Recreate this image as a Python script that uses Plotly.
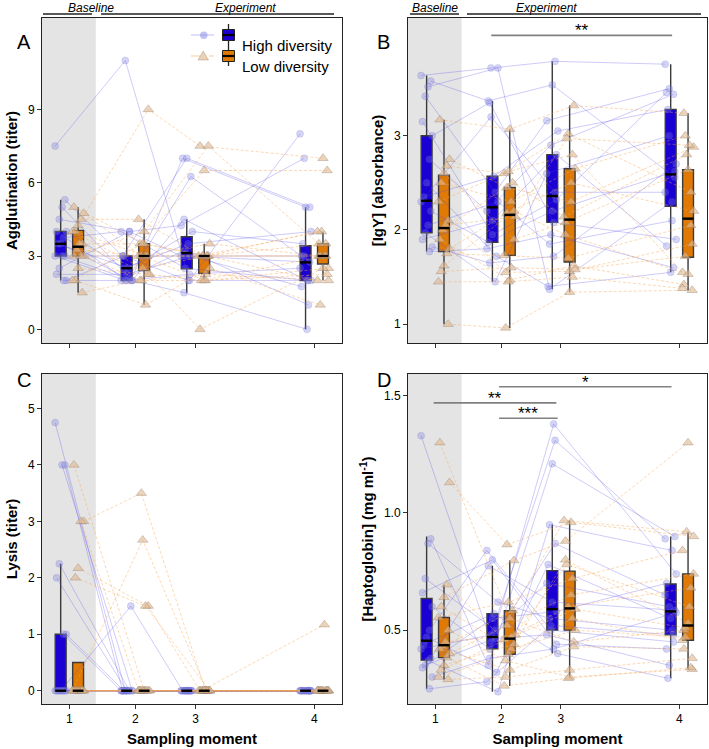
import plotly.graph_objects as go
from plotly.subplots import make_subplots

W, H = 709, 749

# sampling moments and where they sit on the time axis
moments = ["1", "2", "3", "4"]
moment_pos = [1.0, 2.0, 2.91, 4.71]

# individual values, one list per sampling moment (same order = same individual)
agglut_high = [
    [7.5, 5.3, 5.0, 4.5, 4.0, 4.0, 3.75, 3.5, 3.5, 3.0, 3.0, 3.0, 2.5, 2.25, 2.0, 2.0],
    [11.0, 3.0, 2.0, 4.0, 2.0, 2.5, 4.0, 2.0, 2.5, 2.0, 3.0, 2.0, 4.0, 2.25, 3.0, 2.0],
    [2.0, 7.0, 4.5, 3.0, 6.25, 3.5, 2.5, 7.0, 4.0, 2.25, 3.0, 1.5, 4.25, 3.0, 2.0, 3.25],
    [8.0, 5.0, 2.0, 3.0, 3.0, 4.0, 2.0, 5.0, 3.5, 2.5, 2.75, 0.0, 7.0, 1.75, 2.0, 1.0],
]
agglut_low = [
    [5.0, 4.75, 4.5, 4.25, 4.0, 4.0, 3.5, 3.5, 3.25, 3.0, 3.0, 3.0, 2.5, 2.0, 2.0, 1.5],
    [3.5, 3.0, 4.5, 9.0, 3.0, 2.5, 3.5, 2.25, 3.0, 4.0, 2.0, 3.0, 2.25, 1.0, 3.5, 2.0],
    [3.0, 2.0, 3.0, 7.5, 3.5, 3.0, 6.5, 2.0, 3.0, 7.5, 2.25, 3.0, 0.0, 2.5, 3.0, 2.0],
    [3.0, 2.5, 3.5, 7.0, 3.0, 2.0, 6.5, 3.0, 4.0, 3.5, 2.0, 3.0, 2.5, 1.0, 4.0, 2.25],
]
igy_high = [
    [3.64, 3.58, 3.52, 3.42, 3.15, 3.0, 2.75, 2.5, 2.35, 2.3, 2.2, 2.05, 1.97, 1.9, 1.82, 1.77],
    [3.72, 3.37, 3.72, 2.4, 1.95, 3.35, 2.2, 1.72, 2.57, 3.2, 1.87, 2.3, 1.45, 2.1, 1.65, 1.8],
    [3.79, 3.54, 1.37, 3.16, 2.32, 2.08, 2.9, 1.4, 3.05, 2.4, 2.2, 1.85, 2.6, 2.8, 1.72, 1.95],
    [3.76, 2.56, 2.3, 3.5, 3.46, 1.9, 3.44, 1.55, 3.28, 2.4, 2.62, 2.1, 3.0, 1.83, 2.7, 1.6],
]
igy_low = [
    [3.17, 2.75, 2.68, 2.6, 2.5, 2.3, 2.1, 2.05, 2.0, 1.9, 1.8, 1.75, 1.62, 1.56, 1.45, 1.0],
    [3.07, 2.45, 2.6, 1.9, 2.3, 2.62, 1.55, 2.14, 2.5, 1.47, 2.18, 1.73, 2.2, 1.6, 1.45, 0.96],
    [3.32, 2.3, 3.02, 2.08, 2.65, 2.8, 1.56, 2.97, 2.14, 1.62, 2.5, 1.7, 1.95, 1.58, 1.5, 1.34],
    [3.24, 2.88, 2.4, 2.64, 3.0, 1.55, 1.85, 2.9, 2.8, 1.42, 2.2, 2.05, 1.53, 1.72, 1.38, 1.36],
]
lysis_high = [
    [4.75, 4.0, 4.0, 2.25, 2.0, 1.0, 1.0, 0, 0, 0, 0, 0, 0, 0, 0, 0],
    [0, 0, 0, 0, 0, 0, 0, 1.5, 0, 0, 0, 0, 0, 0, 0, 0],
    [0, 0, 0, 0, 0, 0, 0, 0, 0, 0, 0, 0, 0, 0, 0, 0],
    [0, 0, 0, 0, 0, 0, 0, 0, 0, 0, 0, 0, 0, 0, 0, 0],
]
lysis_low = [
    [4.0, 3.0, 3.0, 2.17, 2.0, 0, 0, 0, 0, 0, 0, 0, 0, 0, 0, 0],
    [0, 3.5, 0, 1.5, 1.5, 2.67, 0, 0, 0, 0, 0, 0, 0, 0, 0, 0],
    [0, 0, 0, 0, 0, 0, 0, 0, 0, 0, 0, 0, 0, 0, 0, 0],
    [0, 0, 0, 0, 0, 0, 0, 1.17, 0, 0, 0, 0, 0, 0, 0, 0],
]
hapto_high = [
    [1.33, 0.89, 0.87, 0.72, 0.66, 0.6, 0.5, 0.47, 0.44, 0.42, 0.38, 0.37, 0.35, 0.34, 0.3, 0.25],
    [0.45, 0.35, 0.62, 0.5, 0.8, 0.42, 0.84, 0.32, 0.57, 0.48, 0.775, 0.237, 0.465, 0.55, 0.38, 0.28],
    [0.87, 1.21, 0.55, 0.7, 0.44, 1.38, 0.5, 0.78, 0.4, 1.31, 0.62, 0.95, 0.48, 0.58, 0.42, 0.52],
    [0.65, 0.9, 0.5, 0.6, 0.42, 0.74, 0.45, 0.55, 0.295, 0.89, 0.585, 0.84, 0.35, 0.7, 0.575, 0.48],
]
hapto_low = [
    [1.3, 1.13, 0.694, 0.64, 0.6, 0.554, 0.5, 0.45, 0.43, 0.42, 0.4, 0.383, 0.35, 0.33, 0.3, 0.29],
    [0.55, 0.865, 0.46, 0.797, 0.42, 0.62, 0.37, 0.48, 0.583, 0.33, 0.52, 0.262, 0.44, 0.47, 0.397, 0.3],
    [0.45, 0.96, 0.6, 0.88, 0.5, 0.72, 0.3, 0.78, 0.968, 0.43, 0.65, 0.295, 0.8, 0.59, 0.55, 0.33],
    [0.5, 0.9, 0.68, 1.3, 0.47, 0.84, 0.333, 0.6, 0.92, 0.42, 0.74, 0.34, 0.53, 0.51, 0.457, 0.38],
]

# box statistics per moment: q1, median, q3, lower / upper whisker
agglut_box_high = dict(q1=[3.0, 2.0, 2.48, 2.0], med=[3.5, 2.5, 3.12, 2.74], q3=[4.0, 3.0, 3.79, 3.42],
                       lo=[2.0, 2.0, 1.5, 0.0], hi=[5.3, 4.0, 4.5, 5.0])
agglut_box_low = dict(q1=[3.0, 2.4, 2.29, 2.67], med=[3.38, 3.0, 3.0, 3.0], q3=[4.05, 3.5, 3.0, 3.5],
                      lo=[1.5, 1.0, 2.0, 2.0], hi=[5.0, 4.5, 3.5, 4.0])
igy_box_high = dict(q1=[1.97, 1.87, 2.08, 2.25], med=[2.31, 2.24, 2.36, 2.59], q3=[3.0, 2.57, 2.8, 3.28],
                    lo=[1.77, 1.45, 1.37, 1.55], hi=[3.64, 3.37, 3.79, 3.76])
igy_box_low = dict(q1=[1.77, 1.73, 1.66, 1.71], med=[2.02, 2.16, 2.11, 2.12], q3=[2.58, 2.45, 2.65, 2.64],
                   lo=[1.0, 0.96, 1.34, 1.36], hi=[3.17, 3.07, 3.32, 3.24])
lysis_box_high = dict(q1=[0, 0, 0, 0], med=[0, 0, 0, 0], q3=[1.0, 0, 0, 0], lo=[0, 0, 0, 0], hi=[2.25, 0, 0, 0])
lysis_box_low = dict(q1=[0, 0, 0, 0], med=[0, 0, 0, 0], q3=[0.5, 0, 0, 0], lo=[0, 0, 0, 0], hi=[0.5, 0, 0, 0])
hapto_box_high = dict(q1=[0.372, 0.421, 0.501, 0.48], med=[0.455, 0.471, 0.59, 0.58], q3=[0.635, 0.57, 0.754, 0.697],
                      lo=[0.25, 0.237, 0.40, 0.295], hi=[0.90, 0.775, 0.951, 0.90])
hapto_box_low = dict(q1=[0.383, 0.397, 0.50, 0.457], med=[0.436, 0.464, 0.593, 0.52], q3=[0.554, 0.583, 0.752, 0.74],
                     lo=[0.29, 0.262, 0.295, 0.333], hi=[0.694, 0.797, 0.968, 0.92])

# significance brackets: panel, from, to, height, label
sig_panel = [2, 4, 4, 4]
sig_x0 = [1.85, 1.97, 0.975, 1.97]
sig_x1 = [4.6, 4.59, 2.84, 2.86]
sig_y = [4.066, 1.5385, 1.470, 1.4045]
sig_label = ["**", "*", "**", "***"]

FONT = "Liberation Sans, Arial, sans-serif"
BLUE = "#1A00D2"
ORANGE = "#E07A05"

panels = [
    (agglut_high, agglut_low, agglut_box_high, agglut_box_low, "Agglutination (titer)", [-0.56, 12.74], [0, 3, 6, 9], ["0", "3", "6", "9"], "A"),
    (igy_high, igy_low, igy_box_high, igy_box_low, "[IgY] (absorbance)", [0.80, 4.25], [1, 2, 3], ["1", "2", "3"], "B"),
    (lysis_high, lysis_low, lysis_box_high, lysis_box_low, "Lysis (titer)", [-0.235, 5.61], [0, 1, 2, 3, 4, 5], ["0", "1", "2", "3", "4", "5"], "C"),
    (hapto_high, hapto_low, hapto_box_high, hapto_box_low, "[Haptoglobin] (mg ml<sup>-1</sup>)", [0.185, 1.593], [0.5, 1.0, 1.5], ["0.5", "1.0", "1.5"], "D"),
]

fig = make_subplots(rows=2, cols=2)

# plot area in page pixels
ML, MR, MT, MB = 42, 2, 18, 45


def px_x(p):
    return (p - ML) / (W - ML - MR)


def px_y(p):
    return 1 - (p - MT) / (H - MT - MB)


x_dom = [[px_x(42), px_x(342)], [px_x(408), px_x(707)]]
y_dom = [[px_y(343), px_y(18)], [px_y(704), px_y(374)]]

offsets = [-0.132, 0.132]
box_w = 0.165


def jitter(k, m):
    return ((k * 7 + m * 3) % 9 - 4) * 0.021


styles = [
    dict(line=dict(color="rgba(85,75,230,0.36)", width=0.8),
         marker=dict(symbol="circle", size=7, color="rgba(125,125,225,0.32)",
                     line=dict(color="rgba(90,90,200,0.28)", width=0.6))),
    dict(line=dict(color="rgba(245,165,80,0.55)", width=0.8, dash="3px,2px"),
         marker=dict(symbol="triangle-up", size=9, color="rgba(225,185,145,0.6)",
                     line=dict(color="rgba(140,120,100,0.5)", width=0.7))),
]

for pi, (high, low, bh, bl, ytitle, yrange, yticks, ytext, letter) in enumerate(panels):
    r, c = pi // 2 + 1, pi % 2 + 1
    # individual trajectories
    for gi, data in enumerate([high, low]):
        xs, ys = [], []
        for k in range(len(data[0])):
            for m in range(4):
                xs.append(moment_pos[m] + offsets[gi] + jitter(k + gi * 4, m))
                ys.append(data[m][k])
            xs.append(None)
            ys.append(None)
        fig.add_trace(go.Scatter(x=xs, y=ys, mode="lines+markers", showlegend=False,
                                 hoverinfo="skip", **styles[gi]), row=r, col=c)
    # boxes
    for gi, (b, col) in enumerate([(bh, BLUE), (bl, ORANGE)]):
        bx = [p + offsets[gi] for p in moment_pos]
        fig.add_trace(go.Box(x=bx, q1=b["q1"], median=b["med"], q3=b["q3"],
                             lowerfence=b["lo"], upperfence=b["hi"], width=box_w,
                             fillcolor=col, line=dict(color="#3a3a3a", width=1.4),
                             whiskerwidth=0, boxpoints=False, showlegend=False,
                             hoverinfo="skip"), row=r, col=c)
        mx, my = [], []
        for p, v in zip(bx, b["med"]):
            mx += [p - box_w / 2, p + box_w / 2, None]
            my += [v, v, None]
        fig.add_trace(go.Scatter(x=mx, y=my, mode="lines", line=dict(color="black", width=2.4),
                                 showlegend=False, hoverinfo="skip"), row=r, col=c)

    xa = "xaxis" if pi == 0 else "xaxis%d" % (pi + 1)
    ya = "yaxis" if pi == 0 else "yaxis%d" % (pi + 1)
    fig.layout[xa].update(domain=x_dom[c - 1], range=[0.585, 5.13], tickvals=moment_pos, ticktext=moments,
                          showticklabels=(r == 2), ticks="outside", ticklen=4, tickcolor="#333",
                          showline=True, mirror=True, linecolor="#222", linewidth=1,
                          showgrid=False, zeroline=False, automargin=False,
                          tickfont=dict(family=FONT, size=12, color="black"))
    if r == 2:
        fig.layout[xa].title = dict(text="Sampling moment", standoff=8,
                                    font=dict(family=FONT, size=15, color="black", weight="bold"))
    fig.layout[ya].update(domain=y_dom[r - 1], range=yrange, tickvals=yticks, ticktext=ytext,
                          ticks="outside", ticklen=4, tickcolor="#333",
                          showline=True, mirror=True, linecolor="#222", linewidth=1,
                          showgrid=False, zeroline=False, automargin=False,
                          tickfont=dict(family=FONT, size=12, color="black"),
                          title=dict(text=ytitle, standoff=6,
                                     font=dict(family=FONT, size=15, color="black", weight="bold")))
    xr = "x" if pi == 0 else "x%d" % (pi + 1)
    yr = "y" if pi == 0 else "y%d" % (pi + 1)
    # baseline shading
    fig.add_shape(type="rect", xref=xr, yref=yr + " domain", x0=0.585, x1=1.40, y0=0, y1=1,
                  fillcolor="#e4e4e4", line=dict(width=0), layer="below")
    # panel letter
    lx = 15 if c == 1 else 384
    ly = 29 if r == 1 else 380
    fig.add_annotation(xref="paper", yref="paper", x=px_x(lx), y=px_y(ly), text=letter,
                       showarrow=False, font=dict(family=FONT, size=20, color="black"))

# significance brackets
for p, x0, x1, yv, lab in zip(sig_panel, sig_x0, sig_x1, sig_y, sig_label):
    xr = "x%d" % p
    yr = "y%d" % p
    fig.add_shape(type="line", xref=xr, yref=yr, x0=x0, x1=x1, y0=yv, y1=yv,
                  line=dict(color="#808080", width=1.6))
    fig.add_annotation(xref=xr, yref=yr, x=(x0 + x1) / 2, y=yv, text=lab, showarrow=False,
                       yanchor="bottom", yshift=-7, font=dict(family=FONT, size=17, color="black"))

# Baseline / Experiment headers over the top panels
for bx0, bx1, ex0, ex1, btx, etx in [(43, 92, 101, 334, 67, 214), (410, 459, 467, 701, 435, 578)]:
    for a, b in [(bx0, bx1), (ex0, ex1)]:
        fig.add_shape(type="line", xref="paper", yref="paper", x0=px_x(a), x1=px_x(b),
                      y0=px_y(14), y1=px_y(14), line=dict(color="#222", width=1.3))
    fig.add_annotation(xref="paper", yref="paper", x=px_x(btx), y=px_y(0), yanchor="top",
                       text="<i>Baseline</i>", showarrow=False, borderpad=0,
                       font=dict(family=FONT, size=12, color="black"))
    fig.add_annotation(xref="paper", yref="paper", x=px_x(etx), y=px_y(0), yanchor="top",
                       text="<i>Experiment</i>", showarrow=False, borderpad=0,
                       font=dict(family=FONT, size=12, color="black"))

# legend drawn by hand (line + point glyph and box glyph)
for yc, name, col, gi in [(35, "High diversity", BLUE, 0), (56, "Low diversity", ORANGE, 1)]:
    st = styles[gi]
    fig.add_shape(type="line", xref="paper", yref="paper", x0=px_x(191), x1=px_x(214),
                  y0=px_y(yc), y1=px_y(yc),
                  line=dict(color=st["line"]["color"], width=1, dash="dash" if gi else "solid"))
    if gi == 0:
        fig.add_shape(type="circle", xref="paper", yref="paper", x0=px_x(200), x1=px_x(207.5),
                      y0=px_y(39), y1=px_y(31.5), fillcolor="rgba(140,140,230,0.55)", line=dict(width=0))
    else:
        fig.add_shape(type="path", xref="paper", yref="paper",
                      path="M %f,%f L %f,%f L %f,%f Z" % (px_x(198), px_y(60), px_x(208.5), px_y(60), px_x(203.2), px_y(51)),
                      fillcolor="rgba(228,190,150,0.7)", line=dict(color="rgba(140,120,100,0.5)", width=0.7))
    fig.add_shape(type="line", xref="paper", yref="paper", x0=px_x(228.5), x1=px_x(228.5),
                  y0=px_y(yc - 11), y1=px_y(yc + 10), line=dict(color="#222", width=1.3))
    fig.add_shape(type="rect", xref="paper", yref="paper", x0=px_x(222.5), x1=px_x(234.5),
                  y0=px_y(yc - 5.5), y1=px_y(yc + 5.5), fillcolor=col, line=dict(color="#222", width=1))
    fig.add_shape(type="line", xref="paper", yref="paper", x0=px_x(222.5), x1=px_x(234.5),
                  y0=px_y(yc), y1=px_y(yc), line=dict(color="black", width=2.2))
    fig.add_annotation(xref="paper", yref="paper", x=px_x(240), y=px_y(yc), text=name,
                       xanchor="left", showarrow=False, font=dict(family=FONT, size=15, color="black"))

fig.update_layout(width=W, height=H, margin=dict(l=ML, r=MR, t=MT, b=MB, autoexpand=False),
                  paper_bgcolor="white", plot_bgcolor="white", boxmode="overlay",
                  font=dict(family=FONT, color="black"))

fig.write_html("out.html", config={"displayModeBar": False},
               post_script="document.body.style.margin='0';")
